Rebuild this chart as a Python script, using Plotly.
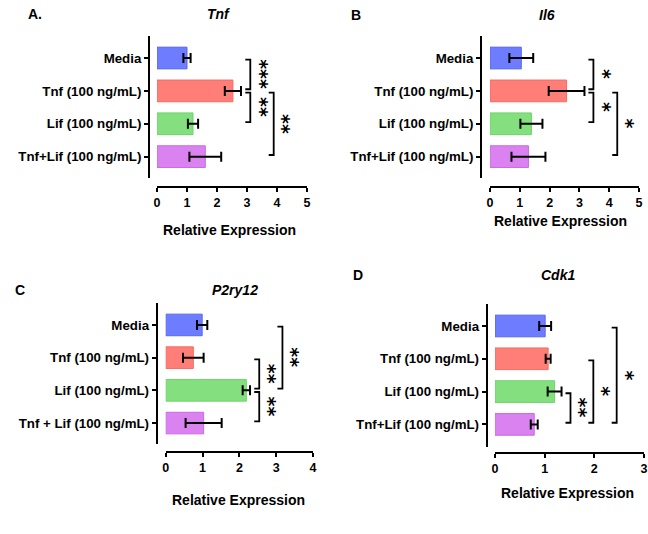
import plotly.graph_objects as go

# ---------------- data ----------------
groups = ["Media", "Tnf (100 ng/mL)", "Lif (100 ng/mL)", "Tnf+Lif (100 ng/mL)"]
groups_c = ["Media", "Tnf (100 ng/mL)", "Lif (100 ng/mL)", "Tnf + Lif (100 ng/mL)"]

tnf_mean = [1.00, 2.53, 1.20, 1.61]
tnf_err = [0.12, 0.27, 0.17, 0.53]
il6_mean = [1.05, 2.57, 1.39, 1.29]
il6_err = [0.40, 0.60, 0.37, 0.57]
p2ry12_mean = [0.99, 0.75, 2.19, 1.03]
p2ry12_err = [0.14, 0.28, 0.10, 0.49]
cdk1_mean = [1.01, 1.07, 1.20, 0.79]
cdk1_err = [0.12, 0.05, 0.14, 0.07]

# significance comparisons: (group i, group j, label)
tnf_sig = [(0, 1, "***"), (1, 2, "**"), (1, 3, "**")]
il6_sig = [(0, 1, "*"), (1, 2, "*"), (1, 3, "*")]
p2ry12_sig = [(1, 2, "**"), (2, 3, "**"), (0, 2, "**")]
cdk1_sig = [(2, 3, "**"), (1, 3, "*"), (0, 3, "*")]

x_ticks_5 = [0, 1, 2, 3, 4, 5]
x_ticks_4 = [0, 1, 2, 3, 4]
x_ticks_3 = [0, 1, 2, 3]

# ---------------- styling / layout ----------------
W, H = 648, 534
fill_colors = ["#6e7dff", "#ff7f78", "#84e07f", "#d982f0"]
line_colors = ["#5566f2", "#f56a62", "#6ed468", "#c96ae6"]
FONT = "Liberation Sans, Arial, sans-serif"


def px(x):
    return x / W


def py(y):
    return 1 - y / H


panels = [
    dict(letter="A.", title="Tnf", cats=groups, mean=tnf_mean, err=tnf_err, sig=tnf_sig,
         xr=[0, 5], ticks=x_ticks_5, xpx=(157, 307), ypx=(36, 178), yr=[3.65, -0.67],
         xaxis_y=187, yaxis_x=149, br_x=[3.11, 3.11, 3.89], title_xy=(218, 14), letter_xy=(35, 14),
         xt_xy=(229, 230)),
    dict(letter="B", title="Il6", cats=groups, mean=il6_mean, err=il6_err, sig=il6_sig,
         xr=[0, 5], ticks=x_ticks_5, xpx=(490, 639), ypx=(36, 178), yr=[3.65, -0.67],
         xaxis_y=187, yaxis_x=481, br_x=[3.47, 3.47, 4.27], title_xy=(547, 15), letter_xy=(356, 15),
         xt_xy=(560, 221)),
    dict(letter="C", title="P2ry12", cats=groups_c, mean=p2ry12_mean, err=p2ry12_err, sig=p2ry12_sig,
         xr=[0, 4], ticks=x_ticks_4, xpx=(165.7, 313), ypx=(302.7, 444), yr=[3.64, -0.68],
         xaxis_y=452, yaxis_x=156.7, br_x=[2.54, 2.54, 3.17], title_xy=(235, 290), letter_xy=(20, 290),
         xt_xy=(239, 500)),
    dict(letter="D", title="Cdk1", cats=groups, mean=cdk1_mean, err=cdk1_err, sig=cdk1_sig,
         xr=[0, 3], ticks=x_ticks_3, xpx=(495, 644), ypx=(304, 446.7), yr=[3.68, -0.67],
         xaxis_y=453.3, yaxis_x=486.7, br_x=[1.52, 1.98, 2.45], title_xy=(558, 275), letter_xy=(358, 275),
         xt_xy=(567, 493)),
]

fig = go.Figure()
shapes = []
annotations = []

for k, p in enumerate(panels):
    n = "" if k == 0 else str(k + 1)
    xa, ya = "x" + n, "y" + n
    fig.add_trace(go.Bar(
        x=p["mean"], y=list(range(len(p["cats"]))), orientation="h",
        marker=dict(color=fill_colors, line=dict(color=line_colors, width=1)),
        width=0.66,
        error_x=dict(type="data", array=p["err"], visible=True, color="black",
                     thickness=2, width=5),
        xaxis=xa, yaxis=ya, showlegend=False, hoverinfo="skip",
    ))
    axis_common = dict(showline=True, linecolor="black", linewidth=2, ticks="outside",
                       tickcolor="black", tickwidth=2, ticklen=4, showgrid=False,
                       zeroline=False, anchor="free", automargin=False)
    fig.layout["xaxis" + n] = dict(
        axis_common, domain=[px(p["xpx"][0]), px(p["xpx"][1])], range=p["xr"],
        tickvals=p["ticks"], ticktext=[str(t) for t in p["ticks"]],
        position=py(p["xaxis_y"]),
        tickfont=dict(family=FONT, size=12.5, color="black", weight="bold"))
    fig.layout["yaxis" + n] = dict(
        axis_common, domain=[py(p["ypx"][1]), py(p["ypx"][0])], range=p["yr"],
        tickvals=list(range(len(p["cats"]))), ticktext=p["cats"],
        position=px(p["yaxis_x"]),
        tickfont=dict(family=FONT, size=13.3, color="black", weight="bold"))

    # brackets
    x0p, x1p = p["xpx"]
    unit_px = (x1p - x0p) / (p["xr"][1] - p["xr"][0])
    tick_len = 5 / unit_px
    for (i, j, lab), bx in zip(p["sig"], p["br_x"]):
        a, b = i + 0.05, j - 0.05
        shapes.append(dict(type="path", xref=xa, yref=ya,
                           path=f"M {bx - tick_len} {a} L {bx} {a} L {bx} {b} L {bx - tick_len} {b}",
                           line=dict(color="black", width=1.8)))
        annotations.append(dict(xref=xa, yref=ya, x=bx, y=(i + j) / 2, text="<b>" + lab + "</b>",
                                showarrow=False, xanchor="center", yanchor="middle", xshift=10,
                                textangle=90,
                                font=dict(family="DejaVu Sans", size=19, color="black")))

    annotations.append(dict(xref="paper", yref="paper", x=px(p["title_xy"][0]), y=py(p["title_xy"][1]),
                            text="<b><i>" + p["title"] + "</i></b>", showarrow=False,
                            xanchor="center", yanchor="middle",
                            font=dict(family=FONT, size=14, color="black")))
    annotations.append(dict(xref="paper", yref="paper", x=px(p["letter_xy"][0]), y=py(p["letter_xy"][1]),
                            text="<b>" + p["letter"] + "</b>", showarrow=False,
                            xanchor="center", yanchor="middle",
                            font=dict(family=FONT, size=14, color="black")))
    annotations.append(dict(xref="paper", yref="paper", x=px(p["xt_xy"][0]), y=py(p["xt_xy"][1]),
                            text="<b>Relative Expression</b>", showarrow=False,
                            xanchor="center", yanchor="middle",
                            font=dict(family=FONT, size=14, color="black")))

fig.update_layout(width=W, height=H, margin=dict(l=0, r=0, t=0, b=0),
                  paper_bgcolor="white", plot_bgcolor="white",
                  shapes=shapes, annotations=annotations, bargap=0.34)

fig.write_html("out.html", config={"displayModeBar": False},
               post_script="document.body.style.margin='0';")
